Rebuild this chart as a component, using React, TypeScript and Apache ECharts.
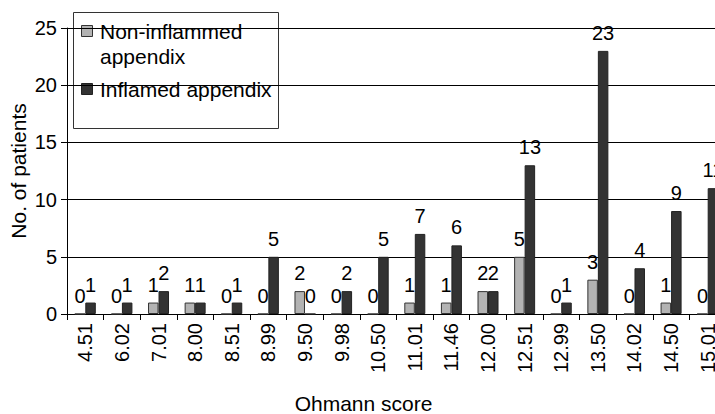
import React, { useEffect, useRef } from "react";
import * as echarts from "echarts";

const categories = ["4.51", "6.02", "7.01", "8.00", "8.51", "8.99", "9.50", "9.98", "10.50", "11.01", "11.46", "12.00", "12.51", "12.99", "13.50", "14.02", "14.50", "15.01"];
const nonInflamed = [0, 0, 1, 1, 0, 0, 2, 0, 0, 1, 1, 2, 5, 0, 3, 0, 1, 0];
const inflamed = [1, 1, 2, 1, 1, 5, 0, 2, 5, 7, 6, 2, 13, 1, 23, 4, 9, 11];
const seriesNames = ["Non-inflammed\nappendix", "Inflamed appendix"];
const colors = ["#b3b3b3", "#333333"];
const yTicks = { min: 0, max: 25, interval: 5 };

const FONT = "'Liberation Sans', Arial, sans-serif";

export default function App() {
  const ref = useRef<HTMLDivElement>(null);
  useEffect(() => {
    if (!ref.current) return;
    const chart = echarts.init(ref.current, null, { renderer: "svg" });
    const labelStyle = {
      show: true,
      position: "top" as const,
      distance: 8,
      fontSize: 20,
      color: "#000",
      fontFamily: FONT,
    };
    chart.setOption({
      animation: false,
      backgroundColor: "#fff",
      textStyle: { fontFamily: FONT, color: "#000" },
      grid: { left: 67, top: 28, right: -11, bottom: 100, outerBoundsMode: "none" },
      xAxis: {
        type: "category",
        data: categories,
        name: "Ohmann score",
        nameLocation: "middle",
        nameGap: 79,
        nameMoveOverlap: false,
        nameTextStyle: { fontSize: 21, color: "#000", fontFamily: FONT, padding: [0, 66, 0, 0] },
        axisLine: { lineStyle: { color: "#000", width: 1 } },
        axisTick: { show: true, length: 6, lineStyle: { color: "#000" } },
        axisLabel: { rotate: 90, interval: 0, fontSize: 20, color: "#000", margin: 9, fontFamily: FONT },
      },
      yAxis: {
        type: "value",
        min: yTicks.min,
        max: yTicks.max,
        interval: yTicks.interval,
        name: "No. of patients",
        nameLocation: "middle",
        nameGap: 38,
        nameMoveOverlap: false,
        nameTextStyle: { fontSize: 21, color: "#000", fontFamily: FONT },
        axisLine: { show: true, lineStyle: { color: "#000", width: 1 } },
        axisTick: { show: true, length: 6, lineStyle: { color: "#000" } },
        axisLabel: { fontSize: 20, color: "#000", margin: 10, fontFamily: FONT },
        splitLine: { show: true, lineStyle: { color: "#000", width: 1 } },
      },
      series: [
        {
          name: seriesNames[0],
          type: "bar",
          data: nonInflamed,
          barWidth: 10.5,
          barGap: "0%",
          itemStyle: { color: colors[0], borderColor: "#333", borderWidth: 1 },
          label: labelStyle,
        },
        {
          name: seriesNames[1],
          type: "bar",
          data: inflamed,
          barWidth: 10.5,
          barGap: "0%",
          itemStyle: { color: colors[1], borderColor: "#222", borderWidth: 1 },
          label: labelStyle,
        },
      ],
      graphic: [
        {
          type: "group",
          z: 100,
          children: [
            {
              type: "rect",
              shape: { x: 73.5, y: 12.5, width: 205, height: 116 },
              style: { fill: "#fff", stroke: "#333", lineWidth: 1 },
            },
            {
              type: "rect",
              shape: { x: 81.5, y: 25.5, width: 11, height: 11 },
              style: { fill: colors[0], stroke: "#333", lineWidth: 1 },
            },
            {
              type: "text",
              x: 100,
              y: 18.5,
              style: {
                text: seriesNames[0],
                fontSize: 21,
                lineHeight: 25,
                fontFamily: FONT,
                fill: "#000",
                verticalAlign: "top",
              },
            },
            {
              type: "rect",
              shape: { x: 81.5, y: 83.5, width: 11, height: 11 },
              style: { fill: colors[1], stroke: "#222", lineWidth: 1 },
            },
            {
              type: "text",
              x: 100,
              y: 76.5,
              style: {
                text: seriesNames[1],
                fontSize: 21,
                lineHeight: 25,
                fontFamily: FONT,
                fill: "#000",
                verticalAlign: "top",
              },
            },
          ],
        },
      ],
    });
    return () => chart.dispose();
  }, []);
  return (
    <div
      ref={ref}
      style={{ position: "absolute", left: 0, top: 0, width: 715, height: 414 }}
    />
  );
}
